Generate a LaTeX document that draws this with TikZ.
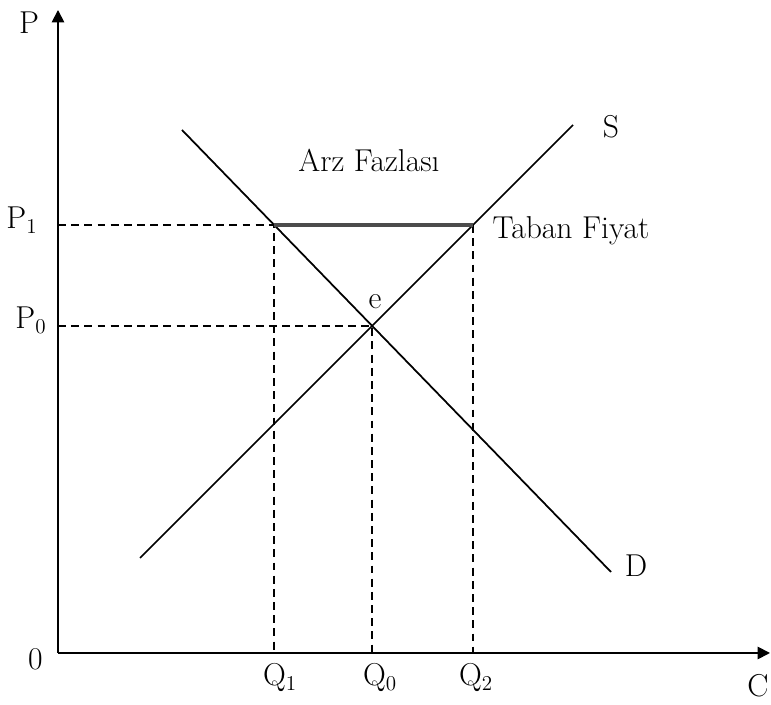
\documentclass[tikz,border=0pt]{standalone}
\usepackage{tikz}
\usetikzlibrary{arrows.meta,positioning,calc}

\begin{document}
\begin{tikzpicture}[>={Triangle[length=7pt,width=7pt]},line width=1pt,font=\fontsize{18}{21}\selectfont,
    guide/.style={dashed,dash pattern=on 4.5pt off 3pt,line width=0.9pt},
    floorline/.style={line width=2.4pt,black!70}]
  \useasboundingbox (-1.16,-1.04) rectangle (14.26,13.06);
  % axes
  \coordinate (o) at (0,0);
  \coordinate (ytop) at (0,12.86);
  \coordinate (xend) at (14.24,0);
  \draw[->] (o) -- (ytop);
  \draw[->] (o) -- (xend);
  \node (plab) at (-0.58,12.6) {P};
  \node (olab) at (-0.45,-0.12) {0};
  \node (clab) at (14.0,-0.66) {C};
  % key points
  \coordinate (e) at (6.28,6.54);
  \coordinate (a) at (4.32,8.56);
  \coordinate (b) at (8.30,8.56);
  \coordinate (p1) at (0,8.56); \coordinate (p0) at (0,6.54);
  \coordinate (q1) at (4.32,0); \coordinate (q0) at (6.28,0); \coordinate (q2) at (8.30,0);
  % demand and supply
  \coordinate (d1) at (2.48,10.46); \coordinate (d2) at (11.06,1.62);
  \coordinate (s1) at (1.64,1.90); \coordinate (s2) at (10.30,10.56);
  \draw (d1) -- (d2);
  \draw (s1) -- (s2);
  % price floor
  \draw[guide] (p1) -- (a) -- (q1);
  \draw[guide] (p0) -- (e) -- (q0);
  \draw[guide] (b) -- (q2);
  \draw[floorline] (a) -- (b);
  % labels
  \node (p1lab) at (-0.72,8.66) {P$_1$};
  \node (p0lab) at (-0.54,6.66) {P$_0$};
  \node (q1lab) at (4.44,-0.5) {Q$_1$};
  \node (q0lab) at (6.44,-0.5) {Q$_0$};
  \node (q2lab) at (8.36,-0.5) {Q$_2$};
  \node (elab) at (6.34,7.02) {e};
  \node (slab) at (11.06,10.52) {S};
  \node (dlab) at (11.56,1.74) {D};
  \node (arz) at (6.22,9.86) {Arz Fazlası};
  \node (taban) at (10.26,8.44) {Taban Fiyat};
\end{tikzpicture}
\end{document}
